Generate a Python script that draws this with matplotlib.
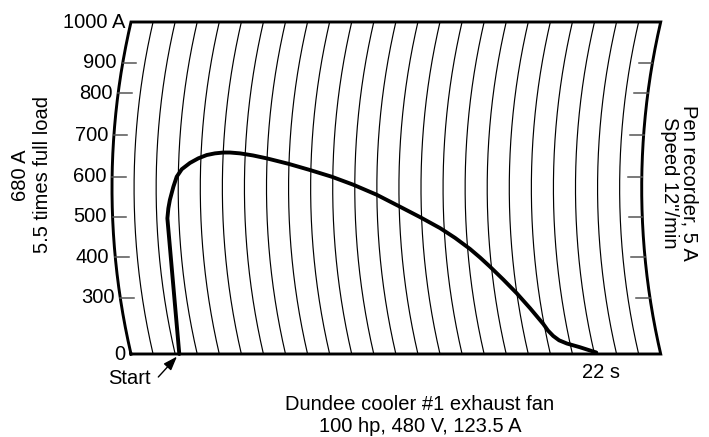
import numpy as np
import matplotlib
matplotlib.use("Agg")
import matplotlib.pyplot as plt
import matplotlib.transforms as mtransforms

plt.rcParams['font.family'] = ['Liberation Sans', 'DejaVu Sans']

# ---------------- data ----------------
# pen trace: time (s) and current (A)
trace_time = [0, 0.34, 0.41, 0.50, 0.69, 0.86, 1.12, 1.54, 1.97, 2.41, 2.84, 3.28,
              3.63, 4.16, 4.85, 5.58, 6.73, 7.88, 9.03, 10.17, 11.40, 12.62,
              13.66, 14.69, 15.45, 16.19, 16.68, 17.16, 17.78, 18.39, 18.97,
              19.52, 19.70, 19.92, 20.18, 20.55, 21.20, 22.0]
trace_amps = [0, 496, 521, 542, 575, 600, 618, 633, 644, 652, 656, 658,
              658, 656, 651, 644, 631, 616, 600, 580, 555, 525,
              499, 472, 448, 421, 400, 377, 345, 311, 244,
              160, 125, 96, 73, 56, 36, 8]

# current scale marks printed on the chart paper and their position on the paper (0..1)
y_ticks = [0, 300, 400, 500, 600, 700, 800, 900, 1000]
y_tick_labels = ["0", "300", "400", "500", "600", "700", "800", "900", "1000 A"]
paper_pos = [0.0, 0.1696, 0.2907, 0.4136, 0.5340, 0.6596, 0.7861, 0.8774, 1.0]

n_divisions = 24          # curved time lines on the paper
end_label = "22 s"
start_label = "Start"
left_label = "680 A\n5.5 times full load"
right_label = "Pen recorder, 5 A\nSpeed 12\"/min"
bottom_label = "Dundee cooler #1 exhaust fan\n100 hp, 480 V, 123.5 A"

# ---------------- figure ----------------
W, H = 709, 437
fig = plt.figure(figsize=(W / 100, H / 100), dpi=100)
left_px, right_px, top_px, bot_px = 131, 660.7, 22, 354
aw, ah = right_px - left_px, bot_px - top_px
ax = fig.add_axes([left_px / W, (H - bot_px) / H, aw / W, ah / H])
ax.set_axis_off()


def fwd(v):
    return np.interp(v, y_ticks, paper_pos)


def inv(p):
    return np.interp(p, paper_pos, y_ticks)


ax.set_yscale('function', functions=(fwd, inv))
ax.set_ylim(0, 1000)
ax.set_xlim(-(179.3 - left_px) / 18.97, (right_px - 179.3) / 18.97)

R = 734.7  # radius of the pen arc in pixels


class ArcShift(mtransforms.Transform):
    input_dims = 2
    output_dims = 2
    is_separable = False
    has_inverse = False

    def transform_non_affine(self, values):
        v = np.asarray(values, dtype=float).reshape(-1, 2)
        y = v[:, 1]
        half = ah / 2.0
        d = np.clip(half * (1 - 2 * y), -R, R)
        sag = np.sqrt(R ** 2 - d ** 2) - np.sqrt(R ** 2 - half ** 2)
        return np.column_stack([v[:, 0] - sag / aw, y])


arc = ArcShift()
paper = arc + ax.transAxes
trace_tr = ax.transScale + ax.transLimits + paper
tick_tr = mtransforms.blended_transform_factory(
    mtransforms.IdentityTransform(), ax.transScale + ax.transLimits) + paper

yy = np.linspace(0, 1, 150)
# interior curved time lines
for k in range(1, n_divisions):
    ax.plot(np.full_like(yy, k / n_divisions), yy, transform=paper,
            color='black', lw=0.85, clip_on=False)

# outer frame
fx = np.concatenate([np.zeros_like(yy), np.ones_like(yy), [0]])
fy = np.concatenate([yy, yy[::-1], [0]])
ax.plot(fx, fy, transform=paper, color='black', lw=2.1, clip_on=False,
        solid_joinstyle='miter')

# scale ticks on both edges
tl = 13.5 / aw
for v in y_ticks[1:-1]:
    ax.plot([0, tl], [v, v], transform=tick_tr, color='#555555', lw=1.1, clip_on=False)
    ax.plot([1 - tl, 1], [v, v], transform=tick_tr, color='#555555', lw=1.1, clip_on=False)

lab_tr = tick_tr + mtransforms.ScaledTranslation(-6 / 100, 0, fig.dpi_scale_trans)
for v, s in zip(y_ticks, y_tick_labels):
    ax.text(0, v, s, transform=lab_tr, ha='right', va='center', fontsize=14.5,
            clip_on=False)

# pen trace
ax.plot(trace_time, trace_amps, transform=trace_tr, color='black', lw=2.8,
        clip_on=False, solid_joinstyle='round', solid_capstyle='round')

# annotations
ax.annotate("", xy=(trace_time[0], trace_amps[0]), xycoords=trace_tr,
            xytext=(-21, -23), textcoords='offset pixels',
            arrowprops=dict(arrowstyle='-|>,head_length=0.7,head_width=0.25',
                            color='black', lw=1.0, shrinkA=0, shrinkB=2.5,
                            mutation_scale=12))
ax.annotate(start_label, xy=(trace_time[0], trace_amps[0]), xycoords=trace_tr,
            xytext=(-50, -25), textcoords='offset pixels', ha='center', va='center',
            fontsize=14.5)
ax.annotate(end_label, xy=(trace_time[-1], 0), xycoords=trace_tr,
            xytext=(4, -18), textcoords='offset pixels', ha='center', va='center',
            fontsize=14.5)

fig.text(31.5 / W, 1 - 175 / H, left_label, rotation=90, ha='center', va='center',
         multialignment='center', fontsize=14.5, linespacing=1.15)
fig.text(679.5 / W, 1 - 183 / H, right_label, rotation=-90, ha='center', va='center',
         multialignment='center', fontsize=14.5, linespacing=1.05)
fig.text(420 / W, 1 - 416 / H, bottom_label, ha='center', va='center',
         multialignment='center', fontsize=14.5, linespacing=1.2)

fig.savefig("out.png", dpi=100)
